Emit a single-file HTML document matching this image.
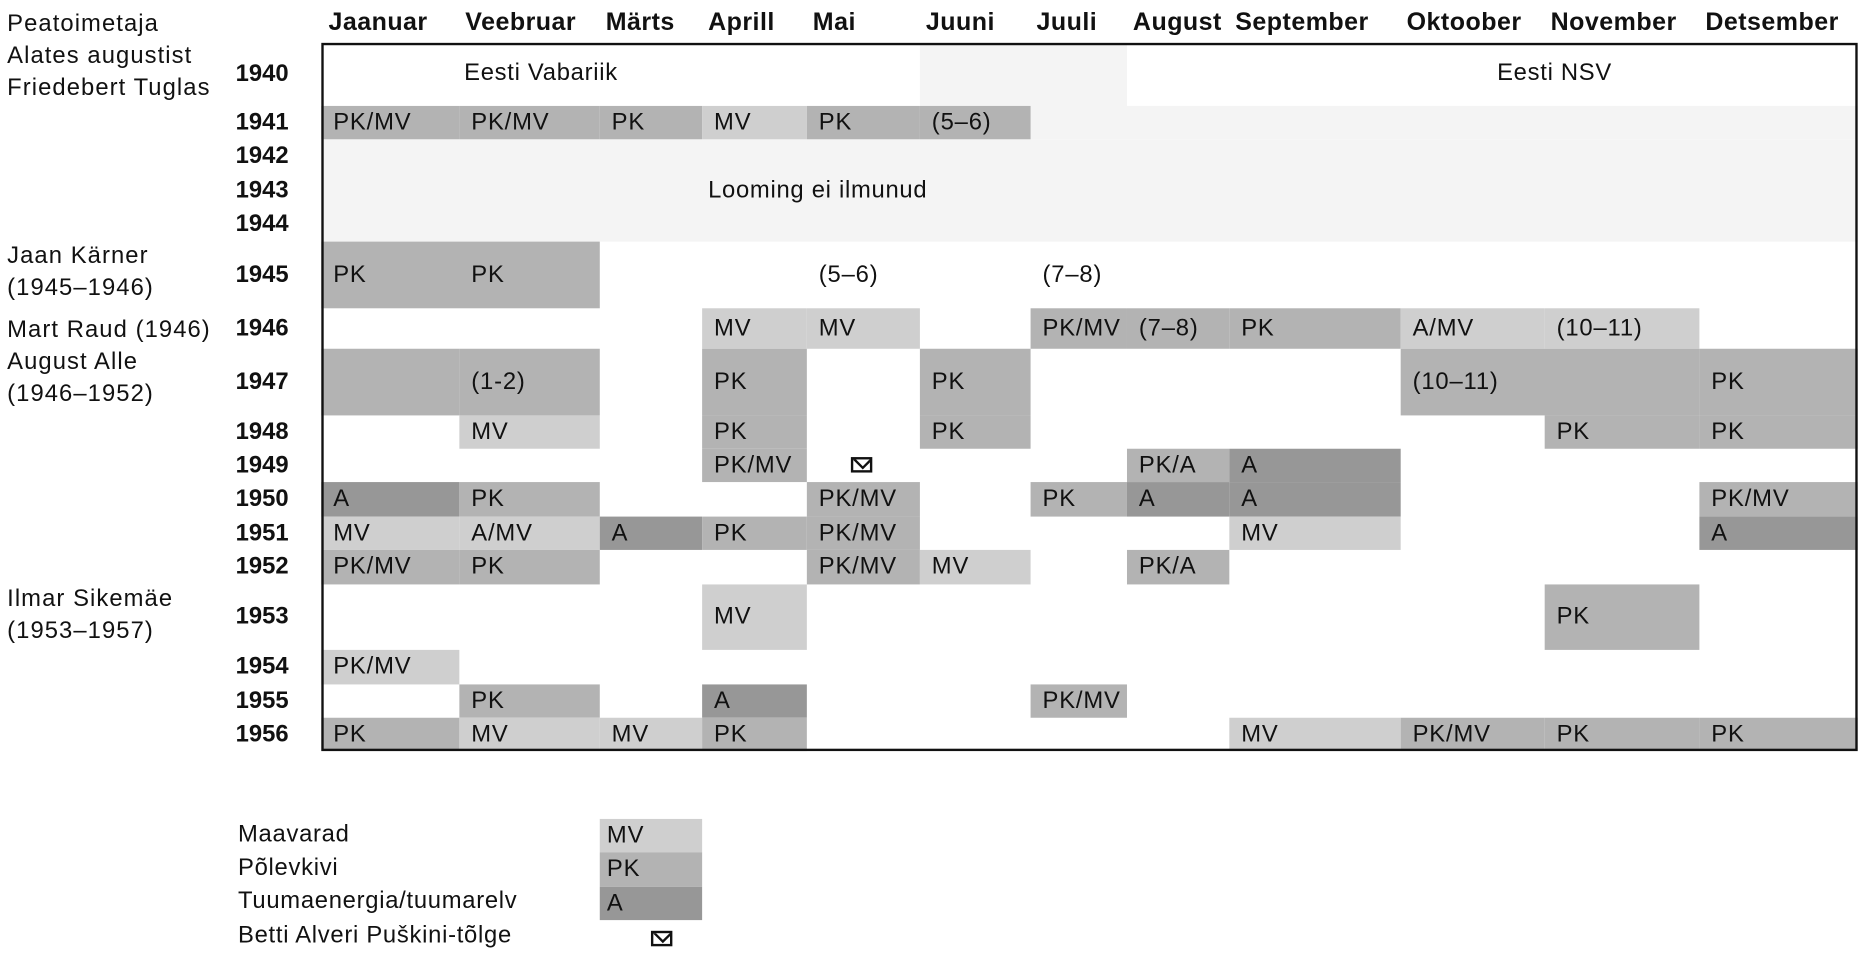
<!DOCTYPE html>
<html><head><meta charset="utf-8"><style>
html,body{margin:0;padding:0;background:#fff;}
body{width:1866px;height:957px;overflow:hidden;}
#w{position:absolute;left:0;top:0;width:1568px;height:804px;transform:scale(1.19005,1.19030);transform-origin:0 0;font-family:"Liberation Sans",sans-serif;color:#111;}
.a{position:absolute;white-space:nowrap;font-size:20px;letter-spacing:0.6px;}
.c{position:absolute;box-sizing:border-box;padding-left:10px;font-size:20px;letter-spacing:0.7px;display:flex;align-items:center;white-space:nowrap;}
.mv{background:#cfcfcf}.pk{background:#b3b3b3}.ad{background:#979797}.lg{background:#f4f4f4}
.m{position:absolute;top:7px;font-size:21px;font-weight:bold;letter-spacing:0.4px;}
.y{position:absolute;left:198px;font-size:20px;font-weight:bold;display:flex;align-items:center;}
.l{position:absolute;left:6px;font-size:20px;line-height:27px;letter-spacing:0.9px;white-space:nowrap;}
.env{display:inline-block;width:14px;height:9px;border:2px solid #111;position:relative;overflow:hidden;}
.env:after{content:"";position:absolute;left:2px;top:-6px;width:8px;height:8px;border:2px solid #111;transform:rotate(45deg);}
</style></head><body><div id="w">
<div class="l" style="top:7px">Peatoimetaja<br>Alates augustist<br>Friedebert Tuglas</div>
<div class="l" style="top:202px">Jaan Kärner<br>(1945–1946)</div>
<div class="l" style="top:264px">Mart Raud (1946)<br>August Alle<br>(1946–1952)</div>
<div class="l" style="top:490px">Ilmar Sikemäe<br>(1953–1957)</div>

<div class="m" style="left:276px">Jaanuar</div><div class="m" style="left:391px">Veebruar</div><div class="m" style="left:509px">Märts</div><div class="m" style="left:595px">Aprill</div><div class="m" style="left:683px">Mai</div><div class="m" style="left:778px">Juuni</div><div class="m" style="left:871px">Juuli</div><div class="m" style="left:952px">August</div><div class="m" style="left:1038px">September</div><div class="m" style="left:1182px">Oktoober</div><div class="m" style="left:1303px">November</div><div class="m" style="left:1433px">Detsember</div>

<div id="cells"></div>
<script>
var cols=[270,386,504,590,678,773,866,947,1033,1177,1298,1428,1561];
var rows={1940:[36,89],1941:[89,117],1942:[117,146],1943:[146,174],1944:[174,203],1945:[203,259],1946:[259,293],1947:[293,349],1948:[349,377],1949:[377,405],1950:[405,434],1951:[434,462],1952:[462,491],1953:[491,546],1954:[546,575],1955:[575,603],1956:[603,631]};
var h='';
for(var y in rows){h+='<div class="y" style="top:'+rows[y][0]+'px;height:'+(rows[y][1]-rows[y][0])+'px">'+y+'</div>';}
function c(y,a,b,cl,t){var r=rows[y];h+='<div class="c '+cl+'" style="left:'+cols[a]+'px;width:'+(cols[b]-cols[a])+'px;top:'+r[0]+'px;height:'+(r[1]-r[0])+'px">'+(t||'')+'</div>';}
c(1940,5,7,'lg');c(1941,6,12,'lg');
h+='<div class="c lg" style="left:270px;width:1291px;top:117px;height:86px"></div>';
c(1941,0,1,'pk','PK/MV');c(1941,1,2,'pk','PK/MV');c(1941,2,3,'pk','PK');c(1941,3,4,'mv','MV');c(1941,4,5,'pk','PK');c(1941,5,6,'pk','(5–6)');
c(1945,0,2,'pk','');c(1945,0,1,'','PK');c(1945,1,2,'','PK');c(1945,4,5,'','(5–6)');c(1945,6,7,'','(7–8)');
c(1946,3,4,'mv','MV');c(1946,4,5,'mv','MV');c(1946,6,7,'pk','PK/MV');c(1946,7,8,'pk','(7–8)');c(1946,8,9,'pk','PK');c(1946,9,10,'mv','A/MV');c(1946,10,11,'mv','(10–11)');
c(1947,0,1,'pk');c(1947,1,2,'pk','(1-2)');c(1947,3,4,'pk','PK');c(1947,5,6,'pk','PK');c(1947,9,11,'pk','(10–11)');c(1947,11,12,'pk','PK');
c(1948,1,2,'mv','MV');c(1948,3,4,'pk','PK');c(1948,5,6,'pk','PK');c(1948,10,11,'pk','PK');c(1948,11,12,'pk','PK');
c(1949,3,4,'pk','PK/MV');c(1949,7,8,'pk','PK/A');c(1949,8,9,'ad','A');
c(1950,0,1,'ad','A');c(1950,1,2,'pk','PK');c(1950,4,5,'pk','PK/MV');c(1950,6,7,'pk','PK');c(1950,7,8,'ad','A');c(1950,8,9,'ad','A');c(1950,11,12,'pk','PK/MV');
c(1951,0,1,'mv','MV');c(1951,1,2,'mv','A/MV');c(1951,2,3,'ad','A');c(1951,3,4,'pk','PK');c(1951,4,5,'pk','PK/MV');c(1951,8,9,'mv','MV');c(1951,11,12,'ad','A');
c(1952,0,1,'pk','PK/MV');c(1952,1,2,'pk','PK');c(1952,4,5,'pk','PK/MV');c(1952,5,6,'mv','MV');c(1952,7,8,'pk','PK/A');
c(1953,3,4,'mv','MV');c(1953,10,11,'pk','PK');
c(1954,0,1,'mv','PK/MV');
c(1955,1,2,'pk','PK');c(1955,3,4,'ad','A');c(1955,6,7,'pk','PK/MV');
c(1956,0,1,'pk','PK');c(1956,1,2,'mv','MV');c(1956,2,3,'mv','MV');c(1956,3,4,'pk','PK');c(1956,8,9,'mv','MV');c(1956,9,10,'pk','PK/MV');c(1956,10,11,'pk','PK');c(1956,11,12,'pk','PK');
document.getElementById('cells').innerHTML=h;
</script>
<div class="a" style="left:390px;top:50px">Eesti Vabariik</div>
<div class="a" style="left:1258px;top:50px">Eesti NSV</div>
<div class="a" style="left:595px;top:149px">Looming ei ilmunud</div>
<div class="a" style="left:715px;top:380px"><span class="env"></span></div>
<div style="position:absolute;left:270px;top:36px;width:1291px;height:595px;border:2px solid #111;box-sizing:border-box;"></div>

<div class="a" style="left:200px;top:690px">Maavarad</div>
<div class="a" style="left:200px;top:718px">Põlevkivi</div>
<div class="a" style="left:200px;top:746px">Tuumaenergia/tuumarelv</div>
<div class="a" style="left:200px;top:775px">Betti Alveri Puškini-tõlge</div>
<div class="c mv" style="left:504px;top:688px;width:86px;height:28px;padding-left:6px">MV</div>
<div class="c pk" style="left:504px;top:716px;width:86px;height:29px;padding-left:6px">PK</div>
<div class="c ad" style="left:504px;top:745px;width:86px;height:28px;padding-left:6px">A</div>
<div class="a" style="left:547px;top:778px"><span class="env"></span></div>
</div></body></html>
